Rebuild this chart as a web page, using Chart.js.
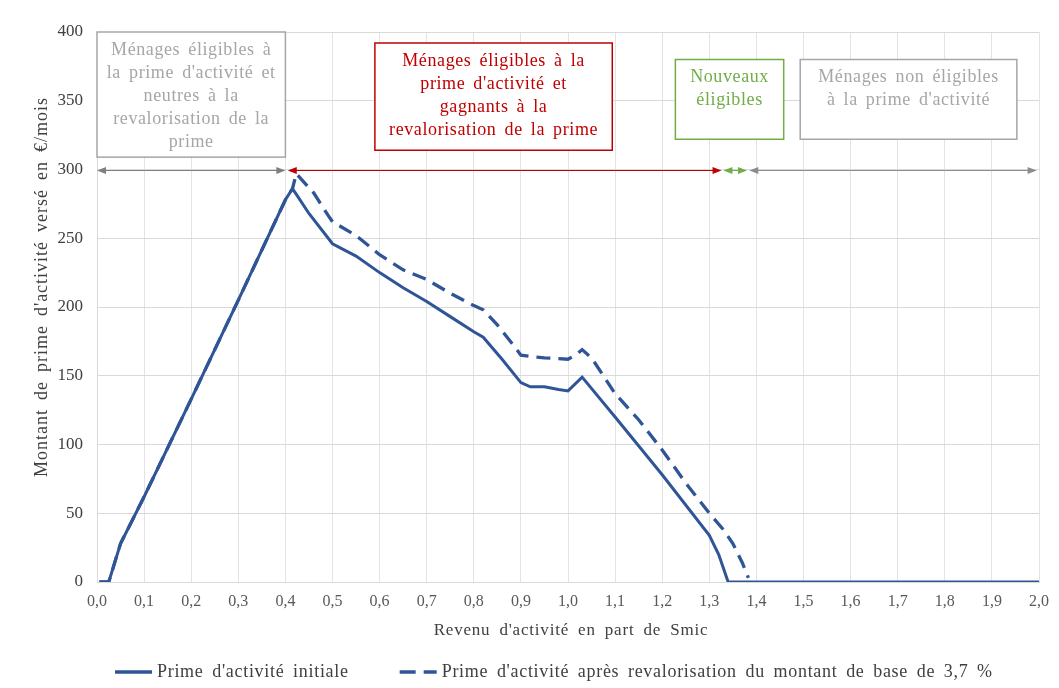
<!DOCTYPE html>
<html>
<head>
<meta charset="utf-8">
<script src="https://cdn.jsdelivr.net/npm/chart.js@4/dist/chart.umd.min.js"></script>
<style>
  html, body { margin: 0; padding: 0; background: #fff; }
</style>
</head>
<body>
<canvas id="chart" width="1059" height="688"></canvas>
<script>
// revenu d'activité en part de Smic
const xInitiale = [0.005, 0.025, 0.05, 0.1, 0.2, 0.3, 0.4, 0.415, 0.425, 0.45, 0.5, 0.55, 0.6, 0.65, 0.7, 0.75, 0.8, 0.82, 0.86, 0.9, 0.92, 0.95, 0.98, 1.0, 1.03, 1.1, 1.2, 1.3, 1.32, 1.34, 1.63, 2.0];
const yInitiale = [0, 0, 28, 62, 133, 205, 278, 286, 281, 268, 246, 237, 225, 214, 204, 193, 182, 178, 162, 145, 142, 142, 140, 139, 149, 120, 78, 34, 20, 0, 0, 0];

const xRevalo = [0.005, 0.025, 0.05, 0.1, 0.2, 0.3, 0.4, 0.415, 0.423, 0.46, 0.49, 0.5, 0.55, 0.6, 0.65, 0.7, 0.75, 0.8, 0.82, 0.85, 0.88, 0.9, 0.92, 0.95, 1.0, 1.02, 1.03, 1.05, 1.1, 1.15, 1.2, 1.25, 1.3, 1.33, 1.35, 1.37, 1.383];
const yRevalo = [0, 0, 28, 62, 133, 205, 278, 286, 297, 283, 267, 262, 252, 238, 227, 220, 210, 201, 198, 187, 174, 165, 164, 163, 162, 166, 169, 163, 137, 118, 96, 72, 50, 38, 28, 14, 3];

const seriesNames = ["Prime d'activité initiale", "Prime d'activité après revalorisation du montant de base de 3,7 %"];
const xTitle = "Revenu d'activité en part de Smic";
const yTitle = "Montant de prime d'activité versé en €/mois";

// zones commentées (en unités des axes)
const zones = [
  { x0: 0.0, x1: 0.4, y1: 400, y0: 309, color: "#a6a6a6",
    lines: ["Ménages éligibles à", "la prime d'activité et", "neutres à la", "revalorisation de la", "prime"] },
  { x0: 0.59, x1: 1.094, y1: 392, y0: 314, color: "#c00000",
    lines: ["Ménages éligibles à la", "prime d'activité et", "gagnants à la", "revalorisation de la prime"] },
  { x0: 1.228, x1: 1.458, y1: 380, y0: 322, color: "#70ad47",
    lines: ["Nouveaux", "éligibles"] },
  { x0: 1.493, x1: 1.953, y1: 380, y0: 322, color: "#a6a6a6",
    lines: ["Ménages non éligibles", "à la prime d'activité"] }
];

const fleches = [
  { from: 0.0, to: 0.4, color: "#7f7f7f" },
  { from: 0.405, to: 1.326, color: "#c00000" },
  { from: 1.33, to: 1.38, color: "#70ad47" },
  { from: 1.385, to: 1.995, color: "#8c8c8c" }
];
const flecheY = 300;

const serif = "'Liberation Serif', 'Times New Roman', serif";
const bleu = "#2f5597";

function toPoints(xs, ys) {
  return xs.map((x, i) => ({ x: x, y: ys[i] }));
}

function texte(ctx, t, x, y, size, color, align, ls, ws) {
  ctx.font = size + "px " + serif;
  ctx.fillStyle = color;
  ctx.textAlign = align;
  ctx.textBaseline = "middle";
  ctx.letterSpacing = ls + "px";
  ctx.wordSpacing = ws + "px";
  ctx.fillText(t, x, y);
  const w = ctx.measureText(t).width;
  ctx.letterSpacing = "0px";
  ctx.wordSpacing = "0px";
  return w;
}

function head(ctx, x, y, dir) {
  ctx.beginPath();
  ctx.moveTo(x, y);
  ctx.lineTo(x - dir * 9, y - 3.5);
  ctx.lineTo(x - dir * 9, y + 3.5);
  ctx.closePath();
  ctx.fill();
}

const zonesPlugin = {
  id: "zones",
  afterDatasetsDraw(chart) {
    const { ctx, scales } = chart;
    const sx = scales.x, sy = scales.y;
    ctx.save();
    zones.forEach((z) => {
      const left = sx.getPixelForValue(z.x0);
      const right = sx.getPixelForValue(z.x1);
      const top = sy.getPixelForValue(z.y1);
      const bottom = sy.getPixelForValue(z.y0);
      ctx.fillStyle = "#fff";
      ctx.fillRect(left, top, right - left, bottom - top);
      ctx.strokeStyle = z.color;
      ctx.lineWidth = 1.5;
      ctx.strokeRect(left, top, right - left, bottom - top);
      z.lines.forEach((t, i) => {
        texte(ctx, t, (left + right) / 2, top + 18 + i * 23, 18, z.color, "center", 0.6, 3);
      });
    });

    const py = Math.round(sy.getPixelForValue(flecheY)) + 0.5;
    fleches.forEach((f) => {
      const a = sx.getPixelForValue(f.from);
      const b = sx.getPixelForValue(f.to);
      ctx.strokeStyle = f.color;
      ctx.fillStyle = f.color;
      ctx.lineWidth = 1;
      ctx.beginPath();
      ctx.moveTo(a + 4, py);
      ctx.lineTo(b - 4, py);
      ctx.stroke();
      head(ctx, a, py, -1);
      head(ctx, b, py, 1);
    });
    ctx.restore();
  },
  afterDraw(chart) {
    const { ctx, chartArea } = chart;
    ctx.save();
    // titres des axes
    texte(ctx, xTitle, (chartArea.left + chartArea.right) / 2 + 3, chartArea.bottom + 49, 17, "#404040", "center", 0.8, 4);
    ctx.save();
    ctx.translate(42, (chartArea.top + chartArea.bottom) / 2 - 20);
    ctx.rotate(-Math.PI / 2);
    texte(ctx, yTitle, 0, 0, 18, "#404040", "center", 1, 3.5);
    ctx.restore();

    // légende
    const ly = chartArea.bottom + 90;
    let lx = chartArea.left + 18;
    chart.data.datasets.forEach((ds) => {
      ctx.strokeStyle = ds.borderColor;
      ctx.lineWidth = 3.5;
      ctx.setLineDash(ds.borderDash ? [16, 8] : []);
      ctx.beginPath();
      ctx.moveTo(lx, ly);
      ctx.lineTo(lx + 37, ly);
      ctx.stroke();
      ctx.setLineDash([]);
      const w = texte(ctx, ds.label, lx + 42, ly, 18, "#404040", "left", 0.7, 3.5);
      lx += 42 + w + 51;
    });
    ctx.restore();
  }
};

new Chart(document.getElementById("chart"), {
  type: "line",
  data: {
    datasets: [
      {
        label: seriesNames[0],
        data: toPoints(xInitiale, yInitiale),
        borderColor: bleu,
        backgroundColor: bleu,
        borderWidth: 3,
        pointRadius: 0,
        tension: 0
      },
      {
        label: seriesNames[1],
        data: toPoints(xRevalo, yRevalo),
        borderColor: bleu,
        backgroundColor: bleu,
        borderWidth: 3.3,
        borderDash: [14, 8],
        pointRadius: 0,
        tension: 0
      }
    ]
  },
  options: {
    responsive: false,
    animation: false,
    layout: { padding: { top: 32, right: 18, left: 0, bottom: 38 } },
    plugins: {
      tooltip: { enabled: false },
      legend: { display: false }
    },
    scales: {
      x: {
        type: "linear",
        min: 0,
        max: 2,
        afterFit: (s) => { s.height = 68; },
        grid: { color: "#e3e3e3", drawTicks: false },
        border: { color: "#d9d9d9" },
        ticks: {
          stepSize: 0.1,
          autoSkip: false,
          maxRotation: 0,
          padding: 10,
          color: "#595959",
          font: { family: serif, size: 16 },
          callback: (v) => v.toFixed(1).replace(".", ",")
        }
      },
      y: {
        min: 0,
        max: 400,
        afterFit: (s) => { s.width = 97; },
        grid: { color: "#d9d9d9", drawTicks: false },
        border: { color: "#d9d9d9" },
        ticks: {
          stepSize: 50,
          padding: 14,
          color: "#404040",
          font: { family: serif, size: 17 }
        }
      }
    }
  },
  plugins: [zonesPlugin]
});
</script>
</body>
</html>
